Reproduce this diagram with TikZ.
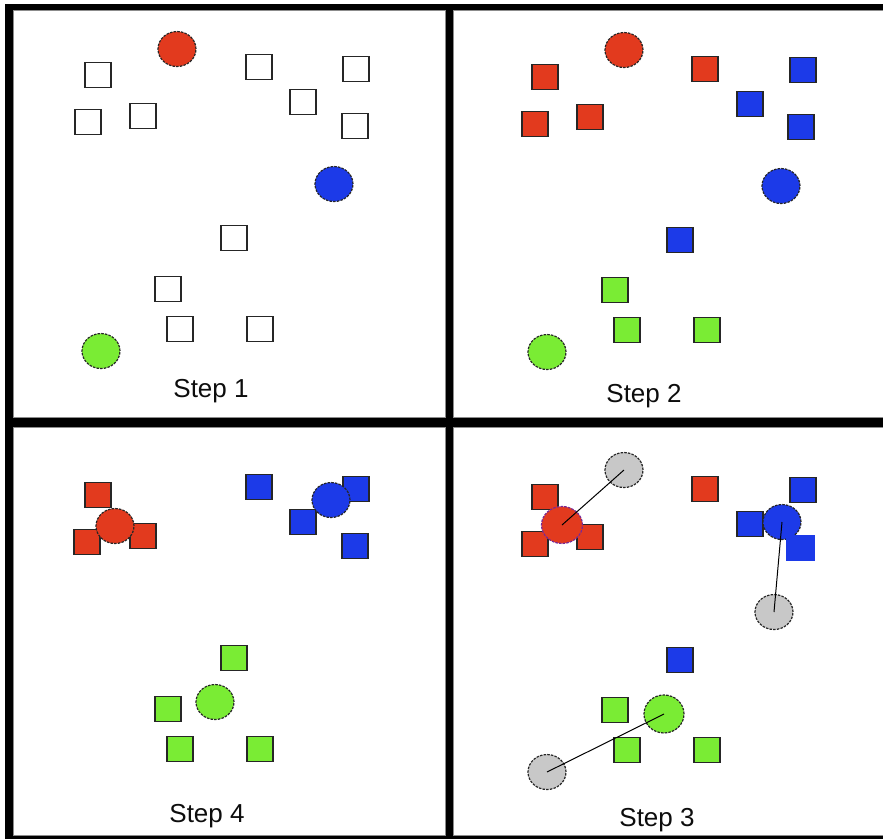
\documentclass[tikz,border=0pt]{standalone}
\usepackage{fontspec}
\setmainfont{Liberation Sans}
\usetikzlibrary{shapes.geometric}
\definecolor{kred}{RGB}{226,58,30}
\definecolor{kblue}{RGB}{28,58,232}
\definecolor{kgreen}{RGB}{122,236,52}
\definecolor{kgray}{RGB}{200,200,200}
\definecolor{kpurple}{RGB}{120,40,150}
\begin{document}
\begin{tikzpicture}[x=1pt,y=-1pt,
  panel/.style={fill=white,draw=black!45,line width=0.8pt},
  sq/.style={rectangle,minimum width=26pt,minimum height=25pt,inner sep=0pt,draw=black!85,line width=1.4pt},
  wsq/.style={sq,fill=white},
  rsq/.style={sq,fill=kred},
  bsq/.style={sq,fill=kblue},
  gsq/.style={sq,fill=kgreen},
  ctr/.style={ellipse,minimum width=38pt,minimum height=35pt,inner sep=0pt,draw=black!85,line width=1.2pt,dash pattern=on 2.5pt off 1.2pt},
  rc/.style={ctr,fill=kred},
  bc/.style={ctr,fill=kblue},
  gc/.style={ctr,fill=kgreen},
  grc/.style={ctr,fill=kgray},
  lbl/.style={font=\fontsize{26}{30}\selectfont,text=black!95,anchor=base,inner sep=0pt},
  link/.style={draw=black,line width=1pt}]
\useasboundingbox (0,0) rectangle (883,839);
\fill[black] (5,4) rectangle (883,839);
\draw[panel] (13,10) rectangle (445,417);
\draw[panel] (453,10) rectangle (883,417);
\draw[panel] (13,427) rectangle (445,835);
\draw[panel] (453,427) rectangle (883,835);

% ---------- Step 1 ----------
\node[wsq] (a1) at (98,75) {};
\node[wsq] (a2) at (88,122) {};
\node[wsq] (a3) at (143,116) {};
\node[wsq] (a4) at (259,67) {};
\node[wsq] (a5) at (303,102) {};
\node[wsq] (a6) at (356,69) {};
\node[wsq] (a7) at (355,126) {};
\node[wsq] (a8) at (234,238) {};
\node[wsq] (a9) at (168,289) {};
\node[wsq] (a10) at (180,329) {};
\node[wsq] (a11) at (260,329) {};
\node[rc] (ar) at (177,49) {};
\node[bc] (ab) at (334,184) {};
\node[gc] (ag) at (101,351) {};
\node[lbl] (t1) at (211,397) {Step 1};

% ---------- Step 2 ----------
\node[rsq] (b1) at (545,77) {};
\node[rsq] (b2) at (535,124) {};
\node[rsq] (b3) at (590,117) {};
\node[rsq] (b4) at (705,69) {};
\node[bsq] (b5) at (750,104) {};
\node[bsq] (b6) at (803,70) {};
\node[bsq] (b7) at (801,127) {};
\node[bsq] (b8) at (680,240) {};
\node[gsq] (b9) at (615,290) {};
\node[gsq] (b10) at (627,330) {};
\node[gsq] (b11) at (707,330) {};
\node[rc] (br) at (624,50) {};
\node[bc] (bb) at (781,186) {};
\node[gc] (bg) at (547,352) {};
\node[lbl] (t2) at (644,402) {Step 2};

% ---------- Step 4 ----------
\node[rsq] (c1) at (98,495) {};
\node[rsq] (c2) at (87,542) {};
\node[rsq] (c3) at (143,536) {};
\node[bsq] (c4) at (259,487) {};
\node[bsq] (c5) at (356,489) {};
\node[bsq] (c6) at (303,522) {};
\node[bsq] (c7) at (355,546) {};
\node[gsq] (c8) at (234,658) {};
\node[gsq] (c9) at (168,709) {};
\node[gsq] (c10) at (180,749) {};
\node[gsq] (c11) at (260,749) {};
\node[rc] (cr) at (115,526) {};
\node[bc] (cb) at (331,500) {};
\node[gc] (cg) at (215,702) {};
\node[lbl] (t4) at (207,822) {Step 4};

% ---------- Step 3 ----------
\node[rsq] (d1) at (545,497) {};
\node[rsq] (d2) at (535,544) {};
\node[rsq] (d3) at (590,537) {};
\node[rsq] (d4) at (705,489) {};
\node[bsq] (d5) at (803,490) {};
\node[bsq] (d6) at (750,524) {};
\node[bsq] (d8) at (680,660) {};
\node[gsq] (d9) at (615,710) {};
\node[gsq] (d10) at (627,750) {};
\node[gsq] (d11) at (707,750) {};
\node[rc,minimum width=41pt,minimum height=37pt,draw=kpurple] (dr) at (562,525) {};
\node[bc] (db) at (782,522) {};
\node[rectangle,minimum width=29pt,minimum height=26pt,inner sep=0pt,fill=kblue] (d7) at (800,548) {};
\node[gc,minimum width=40pt,minimum height=38pt] (dg) at (664,714) {};
\node[grc] (e1) at (624,470) {};
\node[grc] (e2) at (774,612) {};
\node[grc] (e3) at (547,772) {};
\draw[link] (e1.center) -- (dr.center);
\draw[link] (db.center) -- (e2.center);
\draw[link] (dg.center) -- (e3.center);
\node[lbl] (t3) at (657,826) {Step 3};
\end{tikzpicture}
\end{document}
